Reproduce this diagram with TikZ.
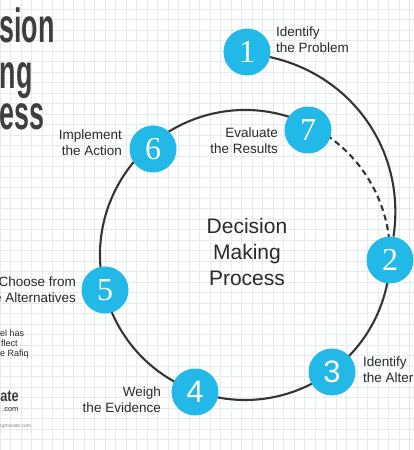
\documentclass[tikz,border=0pt]{standalone}
\usepackage{fontspec}
\usepackage{graphicx}
\setmainfont{Liberation Sans}
\newfontfamily\numserif{Liberation Serif}
\usetikzlibrary{backgrounds}
\definecolor{cyanfill}{HTML}{22B9E8}
\definecolor{ringgray}{HTML}{353535}
\definecolor{gridc}{HTML}{E2EBF0}
\definecolor{txt}{HTML}{2A2A2A}
\definecolor{titlec}{HTML}{3E3E3E}
\begin{document}
\begin{tikzpicture}[x=1pt,y=1pt,
 stepnum/.style={circle, fill=cyanfill, minimum size=47pt, inner sep=0pt, text=white, font=\numserif\fontsize{32}{32}\selectfont},
 sansnum/.style={stepnum, font=\fontsize{31}{31}\selectfont},
 lbl/.style={inner sep=0pt, text=txt, font=\fontsize{13.5}{15.5}\selectfont},
 ring/.style={draw=ringgray, line width=2.1pt},
 titletext/.style={inner sep=0pt, text=titlec, font=\bfseries\fontsize{48}{48}\selectfont, anchor=base east},
 smalltext/.style={inner sep=0pt, text=txt, anchor=base west, font=\fontsize{9}{10}\selectfont},
]
\useasboundingbox (0,0) rectangle (414,450);
\clip (0,0) rectangle (414,450);

% step circles
\node[stepnum] (n1) at (247,398) {1};
\node[stepnum] (n2) at (390,190) {2};
\node[sansnum] (n3) at (332,78) {3};
\node[sansnum] (n4) at (195,58) {4};
\node[stepnum] (n5) at (105,160) {5};
\node[stepnum] (n6) at (153,301) {6};
\node[stepnum] (n7) at (308,320) {7};
\coordinate (c) at (245,195);

\begin{pgfonlayer}{background}
  \fill[white] (0,0) rectangle (414,450);
  \draw[gridc, line width=0.45pt, step=10.5] (0,0) grid (414,450);
  \draw[ring] (c) ++(63:145) arc[start angle=63, end angle=358, radius=145];
  \draw[ring, dash pattern=on 6pt off 4pt] (c) ++(-2:145) arc[start angle=-2, end angle=63, radius=145];
  \draw[ring] (n1) to[bend left=43] (n2);
\end{pgfonlayer}

% labels
\node[lbl, anchor=north west, align=left] (t1) at (276,423) {Identify\\the Problem};
\node[lbl, anchor=north east, align=right] (t7) at (278,322) {Evaluate\\the Results};
\node[lbl, anchor=north east, align=right] (t6) at (122,320) {Implement\\the Action};
\node[lbl, anchor=north east, align=right] (t5) at (76,173) {Choose from\\the Alternatives};
\node[lbl, anchor=north east, align=right] (t4) at (161,63) {Weigh\\the Evidence};
\node[lbl, anchor=north west, align=left] (t3) at (363,93) {Identify\\the Alternatives};
\node[inner sep=0pt, text=txt, font=\fontsize{21}{26}\selectfont, align=center, anchor=north] (ctr) at (247,232) {Decision\\Making\\Process};

% cropped title
\node[titletext] (ttl1) at (55,407) {\scalebox{0.56}[1]{sion}};
\node[titletext] (ttl2) at (33,361) {\scalebox{0.56}[1]{ng}};
\node[titletext] (ttl3) at (45,320) {\scalebox{0.56}[1]{ess}};

% cropped notes
\node[smalltext] (s1) at (0,113) {el has};
\node[smalltext] (s2) at (1,103) {flect};
\node[smalltext] (s3) at (0,93) {e Rafiq};
\node[inner sep=0pt, anchor=base east, text=titlec, font=\bfseries\fontsize{16}{16}\selectfont] (b1) at (19,48) {\scalebox{0.8}[1]{ate}};
\node[smalltext, font=\fontsize{7.5}{8}\selectfont] (b2) at (2,38) {.com};
\node[smalltext, text=gray, font=\itshape\fontsize{5}{6}\selectfont] (b3) at (0,23) {rgmorate.com};
\end{tikzpicture}
\end{document}
